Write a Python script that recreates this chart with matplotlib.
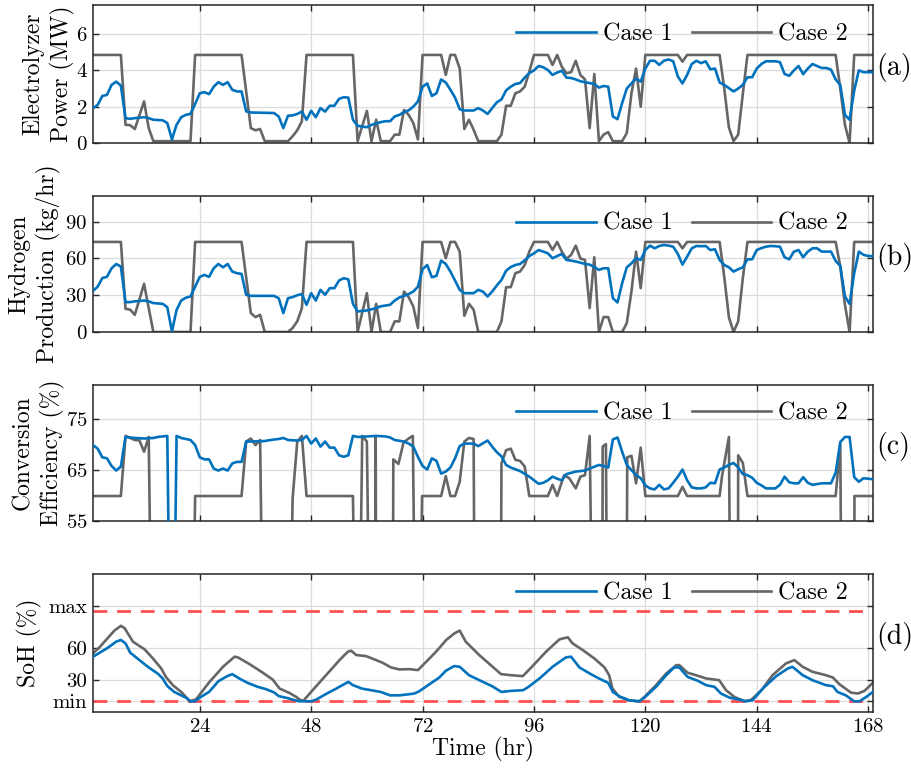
import matplotlib
matplotlib.use("Agg")
import matplotlib.pyplot as plt

plt.rcParams["font.family"] = "cmr10"
plt.rcParams["axes.unicode_minus"] = False
plt.rcParams["axes.formatter.use_mathtext"] = True

# ---- electrolyzer power (MW) ----
pw1_t = [1, 2, 3, 4, 5, 6, 7, 8, 9, 10, 12, 13, 14, 16, 17, 18, 19, 20, 21, 22, 23, 24, 25, 26, 27, 28, 29, 30,
         31, 32, 33, 34, 35, 40, 41, 42, 43, 44, 45, 46, 47, 48, 49, 50, 51, 52, 53, 54, 55, 56, 57, 58, 59, 60,
         61, 62, 63, 64, 65, 66, 67, 68, 69, 70, 71, 72, 73, 74, 75, 76, 77, 78, 79, 80, 81, 83, 84, 85, 86, 87,
         88, 89, 90, 91, 92, 93, 94, 95, 96, 97, 98, 99, 100, 101, 102, 103, 104, 105, 106, 107, 108, 109, 110,
         111, 112, 113, 114, 115, 116, 117, 118, 119, 120, 121, 122, 123, 124, 125, 126, 127, 128, 129, 130, 131,
         132, 133, 134, 135, 136, 137, 138, 139, 140, 141, 142, 143, 144, 145, 146, 147, 148, 149, 150, 151, 152,
         153, 154, 155, 156, 157, 158, 159, 160, 161, 162, 163, 164, 165, 166, 167, 168, 169]
pw1 = [1.92, 2.1, 2.59, 2.65, 3.2, 3.38, 3.16, 1.37, 1.33, 1.37, 1.42, 1.37, 1.28, 1.25, 1.1, 0.2, 1.0, 1.42, 1.55,
       1.6, 2.15, 2.74, 2.8, 2.69, 3.1, 3.35, 3.2, 3.35, 2.93, 2.84, 2.84, 1.74, 1.68, 1.65, 1.46, 0.82, 1.5, 1.52,
       1.6, 1.73, 1.28, 1.77, 1.42, 1.92, 1.73, 2.05, 2.05, 2.43, 2.52, 2.5, 1.28, 0.95, 0.9, 0.87, 1.0, 1.08,
       1.15, 1.2, 1.2, 1.46, 1.55, 1.7, 1.8, 2.0, 2.29, 3.1, 3.28, 2.59, 2.74, 3.5, 3.33, 2.93, 2.5, 1.86, 1.79,
       1.79, 1.92, 1.79, 1.6, 1.92, 2.24, 2.4, 2.9, 3.1, 3.25, 3.3, 3.6, 3.85, 4.0, 4.24, 4.17, 4.02, 3.75, 3.88,
       3.98, 3.6, 3.58, 3.5, 3.4, 3.35, 3.3, 3.25, 3.05, 3.14, 3.1, 1.46, 1.31, 2.2, 3.0, 3.28, 3.55, 3.38, 4.1,
       4.53, 4.53, 4.3, 4.53, 4.6, 4.5, 3.66, 3.28, 3.75, 4.35, 4.53, 4.4, 4.5, 4.06, 4.1, 3.33, 3.2, 3.02, 2.84,
       3.0, 3.2, 3.62, 3.62, 4.1, 4.35, 4.5, 4.5, 4.5, 4.45, 3.8, 3.7, 4.0, 4.24, 3.79, 4.1, 4.35, 4.24, 4.13,
       4.13, 4.04, 3.5, 3.2, 1.55, 1.28, 2.9, 4.0, 3.9, 3.9, 3.9]

pw2_t = [1, 7, 8, 9, 10, 12, 13, 14, 22, 23, 33, 35, 36, 37, 38, 43, 44, 45, 46, 47, 57, 58, 60, 61, 62, 63, 65,
         66, 67, 68, 69, 70, 71, 72, 76, 77, 78, 79, 80, 81, 82, 83, 84, 88, 89, 90, 91, 92, 93, 94, 95, 96, 99,
         100, 101, 102, 103, 104, 105, 106, 107, 108, 109, 110, 111, 112, 113, 115, 116, 117, 118, 119, 120, 127,
         128, 129, 136, 137, 138, 139, 140, 141, 142, 161, 162, 163, 164, 165, 169]
pw2 = [4.85, 4.85, 1.0, 0.98, 0.77, 2.29, 0.82, 0.1, 0.1, 4.85, 4.85, 0.82, 0.7, 0.77, 0.1, 0.1, 0.37, 0.7, 1.2,
       4.85, 4.85, 0.1, 1.77, 0.1, 1.28, 0.1, 0.1, 0.46, 0.46, 1.82, 1.55, 1.1, 0.2, 4.85, 4.85, 3.75, 4.85, 4.85,
       4.1, 0.77, 1.28, 0.73, 0.1, 0.1, 0.46, 2.05, 2.05, 2.74, 2.84, 3.1, 3.93, 4.85, 4.85, 4.3, 4.85, 4.2, 3.84,
       3.9, 4.53, 3.75, 3.5, 0.82, 3.8, 0.1, 0.46, 0.6, 0.1, 0.1, 0.55, 2.74, 4.1, 2.0, 4.85, 4.85, 4.48, 4.85,
       4.85, 3.0, 0.85, 0.1, 0.46, 2.7, 4.85, 4.85, 3.0, 1.0, 0.0, 4.85, 4.85]

# ---- hydrogen production (kg/hr) ----
h2_1_t = [1, 2, 3, 4, 5, 6, 7, 8, 9, 10, 12, 13, 14, 16, 17, 18, 19, 20, 21, 22, 23, 24, 25, 26, 27, 28, 29, 30,
          31, 32, 33, 34, 35, 40, 41, 42, 43, 44, 45, 46, 47, 48, 49, 50, 51, 52, 53, 54, 55, 56, 57, 58, 60, 62,
          63, 65, 66, 67, 68, 69, 70, 71, 72, 73, 74, 75, 76, 77, 78, 79, 80, 81, 83, 84, 85, 86, 87, 88, 89, 90,
          91, 92, 93, 94, 95, 96, 97, 98, 99, 100, 101, 102, 103, 104, 105, 106, 107, 108, 109, 110, 111, 112,
          113, 114, 115, 116, 117, 118, 119, 120, 121, 122, 123, 124, 125, 126, 127, 128, 129, 130, 131, 132, 133,
          134, 135, 136, 137, 138, 139, 140, 141, 142, 143, 144, 145, 146, 147, 148, 149, 150, 151, 152, 153, 154,
          155, 156, 157, 158, 159, 160, 161, 162, 163, 164, 165, 166, 167, 168, 169]
h2_1 = [33.6, 37, 44, 45, 52, 55.5, 53.4, 24.4, 24.4, 25, 25.7, 25, 23.6, 23, 20.3, 0.5, 18, 25.7, 28, 29, 37, 45,
        46.6, 45, 52, 55.5, 52.8, 55.5, 49.3, 48, 47.4, 30.4, 29.5, 29.5, 27.6, 15.4, 27.6, 28.5, 30, 31, 22.2,
        31.7, 25.7, 34.4, 30.4, 35.8, 35.8, 42, 43.9, 43, 23, 16.8, 17.6, 19.5, 21, 22.2, 25.7, 28.2, 29.5, 31,
        33, 37, 51.2, 54.7, 44.7, 45.8, 58.3, 55.5, 49.3, 42, 34.4, 31.7, 31.7, 34.4, 33, 29, 33, 38, 42.5, 50,
        53, 54.7, 55.5, 58.5, 62, 64.2, 66.9, 65.6, 64.2, 60.2, 62, 63.7, 58.8, 58.3, 57.5, 56.6, 55.5, 55, 53,
        50.7, 52, 52, 27.6, 24.1, 39.8, 52.8, 56, 60.2, 58.8, 66.9, 70.5, 68.3, 70.2, 71, 70.5, 69.6, 63.7, 55,
        61.5, 68.3, 70.2, 70, 70.2, 66.9, 67.5, 58.8, 54.7, 52.8, 49.3, 51.2, 52.8, 59.3, 59.3, 66.9, 68.5, 69.6,
        70.2, 70, 69.6, 61, 59.3, 65.6, 66.9, 61, 65.6, 68.3, 68.3, 65.6, 65.6, 65.6, 58, 54, 29, 23, 48, 65.6,
        63, 62, 62]

h2_2_t = [1, 7, 8, 9, 10, 12, 13, 14, 22, 23, 33, 35, 36, 37, 38, 43, 44, 45, 46, 47, 57, 58, 60, 61, 62, 63, 65,
          66, 67, 68, 69, 70, 71, 72, 76, 77, 78, 79, 80, 81, 82, 83, 84, 88, 89, 90, 91, 92, 93, 94, 95, 96, 99,
          100, 101, 102, 103, 104, 105, 106, 107, 108, 109, 110, 111, 112, 113, 115, 116, 117, 118, 119, 120,
          127, 128, 129, 136, 137, 138, 139, 140, 141, 142, 161, 162, 163, 164, 165, 169]
h2_2 = [73.5, 73.5, 19, 18.2, 14, 39.3, 19.5, 0, 0, 73.5, 73.5, 15.4, 12.2, 14, 0, 0, 3.3, 8.7, 19.5, 73.5, 73.5,
        0, 31.7, 0, 23, 0, 0, 8.7, 8.7, 33, 28.5, 20.9, 3.3, 73.5, 73.5, 60.2, 73.5, 73.5, 65.6, 13.3, 23, 18.2,
        0, 0, 8.7, 36.6, 36.6, 48, 49.3, 54.7, 65.6, 73.5, 73.5, 67, 73.5, 65.6, 59.6, 62.9, 70.5, 60, 58.8, 19.5,
        61, 0, 12.2, 12.2, 0, 0, 7.3, 33, 65.6, 35.8, 73.5, 73.5, 68.3, 73.5, 73.5, 45, 12, 0, 8.7, 44, 73.5,
        73.5, 53.4, 22.2, 0, 73.5, 73.5]

# ---- conversion efficiency (%) ----
ef1_t = [1, 2, 3, 4, 5, 6, 7, 8, 10, 12, 14, 15, 17, 18, 19, 20, 22, 23, 24, 25, 26, 27, 28, 29, 30, 31, 32, 33,
         34, 35, 38, 40, 41, 42, 43, 45, 46, 47, 48, 49, 50, 51, 52, 53, 54, 55, 56, 57, 58, 60, 62, 64, 65, 66,
         68, 69, 70, 71, 72, 73, 74, 75, 76, 77, 78, 79, 80, 81, 83, 84, 86, 87, 88, 89, 90, 91, 93, 95, 96, 97,
         98, 99, 100, 101, 102, 103, 105, 106, 107, 108, 110, 111, 112, 113, 114, 115, 116, 117, 118, 119, 120,
         121, 122, 123, 124, 125, 126, 127, 128, 129, 130, 131, 132, 133, 134, 135, 136, 137, 138, 139, 140, 141,
         142, 143, 144, 145, 146, 148, 149, 150, 151, 152, 153, 154, 155, 156, 158, 160, 161, 162, 163, 164, 165,
         166, 167, 169]
ef1 = [69.9, 69.2, 67.5, 67.3, 65.8, 64.9, 65.7, 71.5, 71.3, 71.2, 71.3, 71.5, 71.7, 0, 71.7, 71.3, 70.9, 69.9,
       67.5, 67.1, 67.1, 65.3, 64.9, 65.3, 64.9, 66.3, 66.6, 66.6, 70.6, 70.6, 70.7, 71, 71.1, 71.3, 70.9, 70.8,
       70.9, 71.7, 70.2, 71.2, 69.6, 70.6, 69.4, 69.4, 67.9, 67.6, 67.9, 71.7, 71.5, 71.6, 71.7, 71.6, 71.4, 70.9,
       70.6, 70.2, 69.6, 67.6, 65.8, 65.1, 67.3, 66.8, 64.3, 64.7, 65.5, 67.3, 69.7, 70.2, 70.2, 69.7, 70.8, 69.6,
       68.5, 67.7, 66, 65.5, 64.8, 63.7, 63, 62.3, 62.5, 63, 63.7, 63.3, 63, 64.2, 64.7, 64.8, 64.9, 65.3, 66,
       65.8, 65.5, 71, 71.4, 68.6, 66, 65, 64, 63.4, 62, 61.4, 61.2, 62.1, 61.2, 61.4, 62.5, 63.7, 65.1, 63, 61.6,
       61.4, 61.4, 61.6, 62.5, 62.4, 65.1, 65.5, 66, 66.4, 65.5, 64.2, 64, 63.5, 62.5, 62, 61.4, 61.4, 62.1, 63.7,
       62.6, 62.4, 62.4, 63.6, 62.5, 62.1, 62.4, 62.4, 64.5, 70.5, 71.5, 71.5, 63.6, 62.7, 63.4, 63.2]

ef2_t = [1, 7, 8, 9, 10, 11, 12, 13, 14, 22, 23, 33, 34, 35, 36, 37, 38, 43, 44, 45, 46, 47, 57, 58, 59, 60, 61,
         61.7, 61.9, 62.1, 65.5, 65.7, 66.8, 67.9, 69, 69.9, 70.8, 71.9, 76, 77, 78, 79, 80, 81, 82, 83, 83.4,
         88.7, 89, 90, 91, 92, 93, 94, 95, 99, 100, 101, 102.5, 103.6, 105, 106, 107, 108, 109, 110.7, 110.8,
         111.5, 112, 115.8, 116.1, 117, 118, 119, 120, 127, 128, 129, 136, 136.5, 138, 138.6, 139.9, 140, 141, 142,
         161, 162, 162.5, 165, 165.05, 169]
ef2 = [59.9, 59.9, 71.7, 71.3, 70.9, 70.8, 68.6, 71.5, 0, 0, 59.9, 59.9, 70.6, 71.2, 69.9, 70.9, 0, 0, 59.4, 70.6,
       71.7, 59.9, 59.9, 0, 71.7, 70.6, 0, 0, 71.7, 0, 0, 67.1, 66.2, 70.4, 71.2, 71.7, 0, 59.9, 59.9, 63.8, 59.9,
       59.9, 62.7, 70.6, 71.3, 71.1, 0, 0, 66.3, 68.9, 69.2, 67, 66.8, 65.7, 59.9, 59.9, 62.1, 59.9, 64, 63.4,
       61.4, 63.7, 64, 71.7, 0, 0, 69.6, 70.1, 0, 0, 67.5, 67.8, 62.4, 69.4, 59.9, 59.9, 61.7, 59.9, 59.9, 63.7,
       71.5, 0, 0, 67.9, 66.4, 59.9, 59.9, 70.1, 0, 0, 59.9, 59.9]

# ---- battery state of health (%) ----
soh1_t = [1, 4, 6, 7, 8, 9, 11, 13, 15, 16, 17, 18.5, 20, 21, 22, 23, 24, 26, 28, 30, 31, 32.5, 34.3, 36.5, 38.3,
          40, 41, 43, 44, 45.5, 48, 49, 51, 53.4, 56, 57, 59, 61, 63, 65, 67, 69, 70.2, 71.3, 73.5, 75.6, 77,
          78.8, 80, 82, 85, 87, 89, 91, 93.6, 94.6, 97.2, 100, 102.9, 104, 105.8, 108, 110, 112, 113, 114.4, 116.5,
          118.7, 119.8, 122.3, 124.5, 126.2, 127.3, 129.1, 131.3, 133.1, 134.9, 136.3, 138.1, 140.3, 141.7, 143.1,
          145.3, 148.2, 150.7, 151.7, 153.9, 156, 158.9, 160.4, 161.4, 163.2, 165, 166.1, 167.6, 169]
soh1 = [52.1, 60, 66.3, 67.9, 64.7, 56, 48.9, 42, 36, 31.6, 24.5, 18.9, 15.7, 13.6, 10.1, 10.1, 13.6, 18.9, 29, 34,
        35.7, 31.6, 27.5, 23.7, 21.5, 18.5, 15, 13, 11.7, 10.1, 10.1, 11.5, 16.5, 22.1, 28.4, 25.3, 22, 20.5, 18.9,
        15.7, 15.7, 16.7, 17.4, 19.6, 26.2, 32.5, 38.8, 43.3, 42.6, 34.7, 28.4, 24.3, 18.9, 19.9, 20.5, 23, 31.6,
        42.6, 51.5, 52.1, 42, 36.3, 31.6, 27.5, 18.9, 14.8, 11, 10.1, 13.6, 23.7, 34.7, 42, 42, 33.1, 29.4, 25.3,
        23.7, 17.4, 13.6, 11.7, 10.1, 11, 22.1, 33.8, 41, 42.6, 34.7, 30, 25.3, 24.3, 18.9, 15.7, 10.1, 10.1, 14.2,
        18.9]

soh2_t = [1, 2.4, 3.8, 5.6, 7, 7.8, 9.6, 11, 12.1, 13.9, 15.7, 16.7, 18.2, 20, 21, 21.9, 23.2, 26.1, 29, 31.5, 32.2,
          34.7, 37.6, 39.7, 41.2, 43.3, 44.8, 45.5, 46.3, 48.3, 51.2, 54.1, 55.9, 56.6, 57.7, 59.8, 61.6, 63.4, 65.2,
          67, 69.2, 71, 72.8, 74.9, 77.1, 78.9, 80, 81.3, 84.2, 87.1, 88.9, 91, 93.6, 95.7, 98.6, 101.5, 103.3,
          104.3, 106.5, 109, 111.2, 112.2, 112.9, 114.4, 116.5, 118.7, 119.8, 122.3, 124.5, 126.7, 127.3, 129.1,
          130.9, 133.1, 135.9, 137.4, 139.2, 141.3, 142.8, 145, 147.4, 150.3, 152.1, 153.9, 156, 158.9, 160.4,
          161.8, 164.3, 165.8, 167.2, 169]
soh2 = [55.3, 61, 67.9, 76.7, 81.2, 79, 66.3, 62.2, 59.1, 50.5, 41, 33, 25.3, 18.9, 14.2, 10.1, 12, 28.4, 42.6,
        52.1, 51.5, 45.2, 37, 30.6, 22.1, 18, 14.2, 11.7, 10.5, 20.5, 34.7, 48.9, 56.8, 57.8, 53.7, 52.7, 49.6,
        46.4, 42, 40.1, 40.4, 39.5, 47.4, 56.8, 67.9, 74.2, 76.7, 66.3, 53.7, 42.6, 35.7, 34.7, 33.8, 43.3, 56.8,
        68.5, 70.4, 64.7, 58.4, 50.5, 42, 34.7, 22.1, 14.2, 11, 10.1, 14.2, 25.3, 36.3, 44.2, 44.2, 37, 34.7, 31.6,
        30, 20.5, 14.2, 10.1, 11.5, 20.5, 34.7, 45.8, 48.9, 42.6, 37.9, 34.7, 32.5, 26.2, 18.3, 17.4, 19.9, 27.5]

soh_min, soh_max = 10, 95

BLUE = "#0072BD"
GRAY = "#666666"

fig = plt.figure(figsize=(9.12, 7.70), dpi=100)
left, width = 0.102, 0.855
boxes = [(0.8143, 0.1792), (0.5688, 0.1767), (0.3234, 0.1766), (0.0753, 0.1792)]
axes = [fig.add_axes([left, b, width, h]) for b, h in boxes]

panels = [
    (pw1_t, pw1, pw2_t, pw2),
    (h2_1_t, h2_1, h2_2_t, h2_2),
    (ef1_t, ef1, ef2_t, ef2),
    (soh1_t, soh1, soh2_t, soh2),
]
ylabels = ["Electrolyzer\nPower (MW)", "Hydrogen\nProduction (kg/hr)",
           "Conversion\nEfficiency (%)", "SoH (%)"]
ylims = [(0, 7.6), (0, 111), (55, 81.7), (0, 130)]
yticks = [[0, 2, 4, 6], [0, 30, 60, 90], [55, 65, 75], [soh_min, 30, 60, 100]]
label_x = [-0.023, -0.041, -0.036, -0.066]
legend_y = [0.79, 0.795, 0.79, 0.86]
tags = ["(a)", "(b)", "(c)", "(d)"]

for i, ax in enumerate(axes):
    t1, v1, t2, v2 = panels[i]
    if i == 3:
        ax.axhline(soh_max, color="#FF5050", lw=2.0, ls=(0, (5, 3.5)), zorder=1.5)
        ax.axhline(soh_min, color="#FF5050", lw=2.0, ls=(0, (5, 3.5)), zorder=1.5)
    ax.plot(t1, v1, color=BLUE, lw=1.9, label="Case 1", zorder=3)
    ax.plot(t2, v2, color=GRAY, lw=1.9, label="Case 2", zorder=2.5)

    ax.set_xlim(1, 169)
    ax.set_ylim(*ylims[i])
    ax.set_xticks(range(24, 169, 24))
    ax.set_yticks(yticks[i])
    if i == 3:
        ax.set_yticklabels(["min", "30", "60", "max"])
        ax.set_xlabel("Time (hr)", fontsize=17, labelpad=1)
    else:
        ax.tick_params(labelbottom=False)

    ax.grid(True, color="#DCDCDC", lw=0.9)
    ax.set_axisbelow(True)
    ax.tick_params(direction="in", top=True, right=True, length=4.5, width=1.0,
                   labelsize=15, color="#262626", pad=4)
    for sp in ax.spines.values():
        sp.set_color("#262626")
        sp.set_linewidth(1.1)

    ax.set_ylabel(ylabels[i], fontsize=17, linespacing=1.3)
    ax.yaxis.set_label_coords(label_x[i], 0.5)

    ax.legend(loc="center left", bbox_to_anchor=(0.543, legend_y[i]), ncol=2, frameon=False,
              fontsize=17.3, handlelength=3.3, handletextpad=0.3, columnspacing=0.8,
              borderpad=0, borderaxespad=0)
    ax.text(1.004, 0.55, tags[i], transform=ax.transAxes, fontsize=20, va="center", ha="left")

fig.savefig("out.png", dpi=100)
